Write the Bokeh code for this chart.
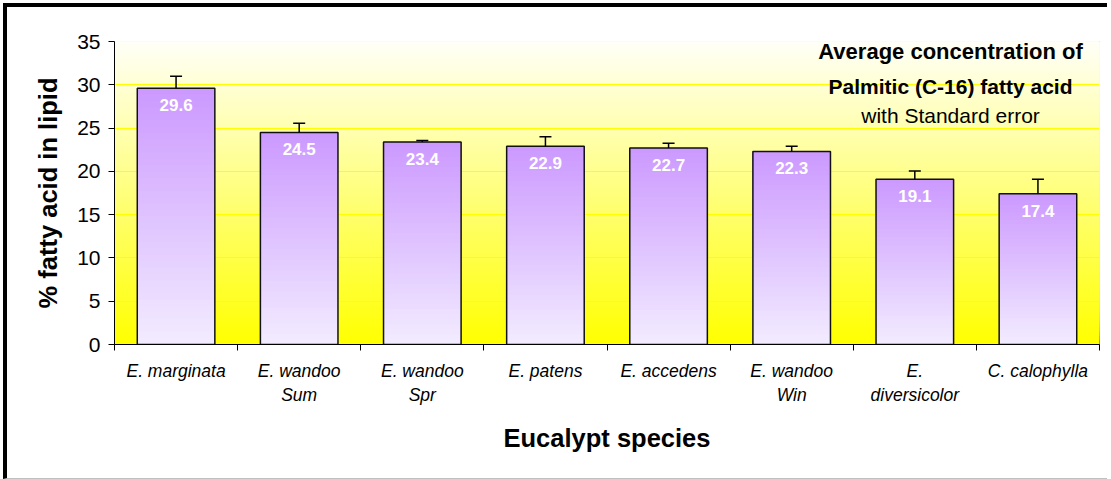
from bokeh.plotting import figure
from bokeh.models import Range1d, FixedTicker, Whisker, TeeHead, ColumnDataSource, Label
from bokeh.core.properties import value
from bokeh.embed import file_html
from bokeh.resources import INLINE

# ---- data ----
categories = ["E. marginata", "E. wandoo\nSum", "E. wandoo\nSpr", "E. patens",
              "E. accedens", "E. wandoo\nWin", "E.\ndiversicolor", "C. calophylla"]
means = [29.6, 24.5, 23.4, 22.9, 22.7, 22.3, 19.1, 17.4]
std_err = [1.4, 1.05, 0.15, 1.1, 0.55, 0.6, 0.95, 1.7]
y_ticks = [0, 5, 10, 15, 20, 25, 30, 35]
title_lines = ["Average concentration of", "Palmitic (C-16) fatty acid", "with Standard error"]

FONT = "Liberation Sans"
n = len(categories)
xs = list(range(n))

p = figure(width=1104, height=476, output_backend="svg", toolbar_location=None,
           x_range=Range1d(-0.5, n - 0.5), y_range=Range1d(0, 35),
           min_border_left=107, min_border_right=12, min_border_top=34, min_border_bottom=139)
p.styles = {"margin": "3px 0px 0px 3px", "border-top": "4px solid black",
            "border-left": "4px solid black", "border-bottom": "1px solid #c0c0c0"}
p.background_fill_color = "white"
p.border_fill_color = "white"
p.outline_line_color = "#808080"
p.outline_line_width = 1

def mix(c0, c1, t):
    return "#%02x%02x%02x" % tuple(int(round(a + (b - a) * t)) for a, b in zip(c0, c1))

# background gradient (plot area)
NB = 70
bg_bottom = [35 * k / NB for k in range(NB)]
bg_cols = [mix((255, 255, 0), (255, 255, 248), (k + 0.5) / NB) for k in range(NB)]
p.quad(left=[-0.5] * NB, right=[n - 0.5] * NB, bottom=bg_bottom, top=[35] * NB,
       fill_color=bg_cols, line_color=None, level="image")

# grid
p.xgrid.grid_line_color = None
p.ygrid.ticker = FixedTicker(ticks=y_ticks[1:-1])
p.ygrid.grid_line_color = "#FFFF00"
p.ygrid.grid_line_width = 1

# bars with vertical gradient
W = 0.63
NG = 40
L, R, B, T, C = [], [], [], [], []
for i, v in enumerate(means):
    for k in range(NG):
        L.append(xs[i] - W / 2); R.append(xs[i] + W / 2)
        B.append(v * k / NG); T.append(v)
        C.append(mix((242, 236, 255), (204, 153, 255), (k + 0.5) / NG))
p.quad(left=L, right=R, bottom=B, top=T, fill_color=C, line_color=None)
p.vbar(x=xs, top=means, width=W, fill_color=None, line_color="#111111", line_width=1.5)

# error bars
src = ColumnDataSource(dict(x=xs, lower=means, upper=[m + s for m, s in zip(means, std_err)]))
wh = Whisker(base="x", lower="lower", upper="upper", source=src, dimension="height",
             upper_head=TeeHead(size=12, line_color="black", line_width=1.5),
             lower_head=None, line_color="black", line_width=1.5, level="glyph")
p.add_layout(wh)

# value labels
p.text(x=xs, y=means, text=[f"{v:.1f}" for v in means], text_color="white",
       text_font=value(FONT), text_font_size=value("17px"), text_font_style="bold",
       text_align="center", text_baseline="middle", y_offset=17)

# title lines
for txt, yy, st, fs in zip(title_lines, [33.9, 29.8, 26.45], ["bold", "bold", "normal"],
                           ["22px", "21px", "21px"]):
    p.add_layout(Label(x=6.29, y=yy, text=txt, text_font=FONT, text_font_size=fs,
                       text_font_style=st, text_align="center", text_baseline="middle",
                       text_color="black"))

# y axis
ya = p.yaxis[0]
ya.ticker = FixedTicker(ticks=y_ticks)
ya.minor_tick_line_color = None
ya.major_tick_in = 0
ya.major_tick_out = 6
ya.axis_line_color = "black"
ya.major_tick_line_color = "black"
ya.major_label_text_font = FONT
ya.major_label_text_font_size = "21px"
ya.major_label_text_color = "black"
ya.major_label_standoff = 8
ya.axis_label = "% fatty acid in lipid"
ya.axis_label_text_font = FONT
ya.axis_label_text_font_size = "25.5px"
ya.axis_label_text_font_style = "bold"
ya.axis_label_text_color = "black"
ya.axis_label_standoff = 12

# x axis
xa = p.xaxis[0]
xa.ticker = FixedTicker(ticks=xs, minor_ticks=[x - 0.5 for x in xs] + [n - 0.5])
xa.major_tick_line_color = None
xa.major_tick_in = 0
xa.major_tick_out = 6
xa.minor_tick_in = 0
xa.minor_tick_out = 6
xa.minor_tick_line_color = "black"
xa.axis_line_color = "black"
xa.major_label_overrides = {i: c for i, c in enumerate(categories)}
xa.major_label_text_font = FONT
xa.major_label_text_font_size = "17.5px"
xa.major_label_text_font_style = "italic"
xa.major_label_text_color = "black"
xa.major_label_text_line_height = 1.2
xa.major_label_standoff = 10
xa.axis_label = "Eucalypt species"
xa.axis_label_text_font = FONT
xa.axis_label_text_font_size = "25.5px"
xa.axis_label_text_font_style = "bold"
xa.axis_label_text_color = "black"
xa.axis_label_standoff = 16

open("out.html", "w").write(file_html(p, INLINE))
